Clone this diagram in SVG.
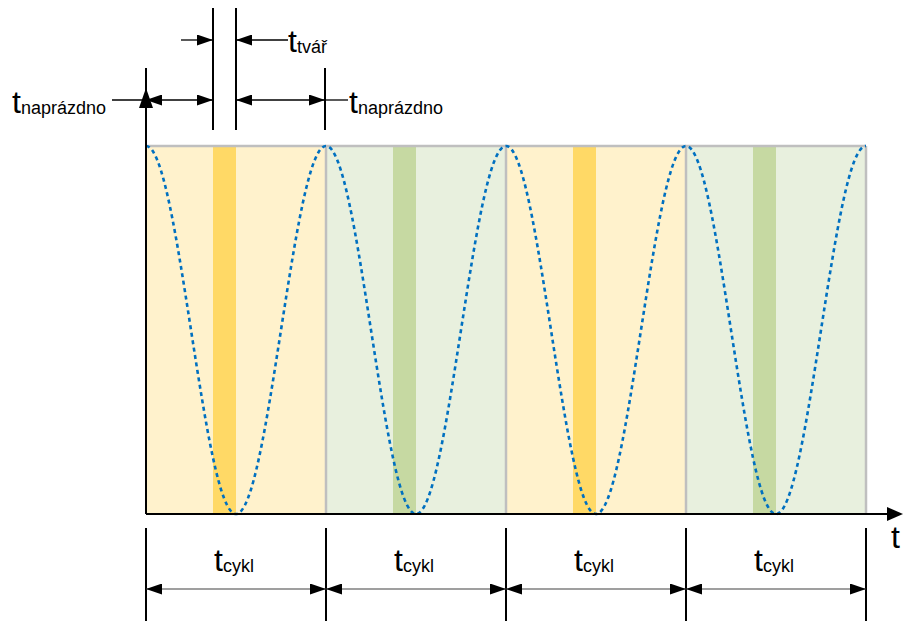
<svg xmlns="http://www.w3.org/2000/svg" width="903" height="621" viewBox="0 0 903 621">
<style>
.ly{fill:#FFF2CC}.lg{fill:#E8F0DE}.dy{fill:#FFD966}.dg{fill:#C6D9A2}
.gr{stroke:#BFBFBF;stroke-width:2.5;fill:none}
.bk{stroke:#000;stroke-width:2;fill:none}
.dim{stroke:#000;stroke-width:1.3;fill:none}
.dimb{stroke:#404040;stroke-width:1.2;fill:none}
.cur{stroke:#0070C0;stroke-width:2.6;fill:none;stroke-dasharray:4 3.5}
text{font-family:"Liberation Sans",Arial,sans-serif;fill:#000}
.m{font-size:32px}.s{font-size:18px}
</style>
<defs>
<marker id="ah" viewBox="0 0 16 11" refX="16" refY="5.5" markerWidth="16" markerHeight="11" markerUnits="userSpaceOnUse" orient="auto-start-reverse"><path d="M0,0L16,5.5L0,11z" fill="#000"/></marker>
</defs>
<g id="columns">
<rect class="ly" x="146" y="146" width="180" height="368"/>
<rect class="lg" x="326" y="146" width="180" height="368"/>
<rect class="ly" x="506" y="146" width="180" height="368"/>
<rect class="lg" x="686" y="146" width="180" height="368"/>
<rect class="dy" x="213" y="146" width="23" height="368"/>
<rect class="dg" x="393" y="146" width="23" height="368"/>
<rect class="dy" x="573" y="146" width="23" height="368"/>
<rect class="dg" x="753" y="146" width="23" height="368"/>
<path class="gr" d="M146,146H866M326,146V514M506,146V514M686,146V514M866,146V514"/>
</g>
<g id="curve">
<path class="cur" d="M146,146c16.29,0 30.32,89.74 45,184s28.71,184 45,184s30.32,-89.74 45,-184s28.71,-184 45,-184s30.32,89.74 45,184s28.71,184 45,184s30.32,-89.74 45,-184s28.71,-184 45,-184s30.32,89.74 45,184s28.71,184 45,184s30.32,-89.74 45,-184s28.71,-184 45,-184s30.32,89.74 45,184s28.71,184 45,184s30.32,-89.74 45,-184s28.71,-184 45,-184"/>
</g>
<g id="axes">
<path class="bk" d="M146,514V68"/>
<path d="M146,88L139,108H153z" fill="#000"/>
<path class="bk" d="M146,514H888"/>
<path d="M903,514L887,507V521z" fill="#000"/>
<text class="m" x="891" y="548">t</text>
</g>
<g id="connectors">
<path class="bk" d="M213,8V130M236,8V130M325,68V130"/>
<path class="dim" d="M181,40H213" marker-end="url(#ah)"/>
<path class="dim" d="M288,40H236" marker-end="url(#ah)"/>
<path class="dim" d="M112,100H146"/>
<path class="dim" d="M146,100H213" marker-start="url(#ah)" marker-end="url(#ah)"/>
<path class="dim" d="M236,100H325" marker-start="url(#ah)" marker-end="url(#ah)"/>
<path class="dim" d="M325,100H348"/>
<path class="bk" d="M146,528V621M326,528V621M506,528V621M686,528V621M866,528V621"/>
<path class="dimb" d="M146,589H326" marker-start="url(#ah)" marker-end="url(#ah)"/>
<path class="dimb" d="M326,589H506" marker-start="url(#ah)" marker-end="url(#ah)"/>
<path class="dimb" d="M506,589H686" marker-start="url(#ah)" marker-end="url(#ah)"/>
<path class="dimb" d="M686,589H866" marker-start="url(#ah)" marker-end="url(#ah)"/>
</g>
<g id="label-tvar"><text x="288" y="52"><tspan class="m">t</tspan><tspan class="s" dy="1">tvář</tspan></text></g>
<g id="label-naprazdno-left"><text x="12" y="113"><tspan class="m">t</tspan><tspan class="s" dy="1">naprázdno</tspan></text></g>
<g id="label-naprazdno-right"><text x="349" y="113"><tspan class="m">t</tspan><tspan class="s" dy="1">naprázdno</tspan></text></g>
<g id="label-cykl-1"><text x="214" y="571"><tspan class="m">t</tspan><tspan class="s" dy="1">cykl</tspan></text></g>
<g id="label-cykl-2"><text x="394" y="571"><tspan class="m">t</tspan><tspan class="s" dy="1">cykl</tspan></text></g>
<g id="label-cykl-3"><text x="574" y="571"><tspan class="m">t</tspan><tspan class="s" dy="1">cykl</tspan></text></g>
<g id="label-cykl-4"><text x="754" y="571"><tspan class="m">t</tspan><tspan class="s" dy="1">cykl</tspan></text></g>
</svg>
